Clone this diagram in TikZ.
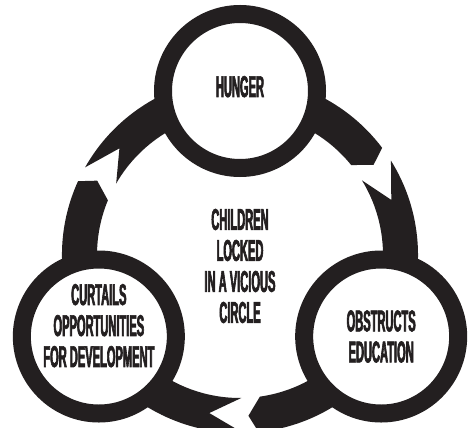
\documentclass[tikz,border=0pt]{standalone}
\usepackage{fontspec}
\setmainfont{Liberation Sans}[FakeStretch=0.37,FakeBold=2]
\usetikzlibrary{calc}
\definecolor{ink}{HTML}{231F20}

\begin{document}
\begin{tikzpicture}[
    x=1bp, y=1bp,
    stage/.style={circle, draw=ink, line width=18bp, fill=white, inner sep=0pt, minimum size=154bp, align=center, text=ink, font=\fontsize{30bp}{31bp}\selectfont\bfseries},
    caption/.style={align=center, text=ink, font=\fontsize{30bp}{31bp}\selectfont\bfseries},
    band/.style={fill=ink}
]
\path[use as bounding box, clip] (0,0) rectangle (471,427);

\coordinate (hub) at (240,172);

% ring pieces: pointed end at \a, swallowtail end at \b
\foreach \a/\b in {34/152.5, 152.5/273, -87/34} {
  \fill[band] ($(hub)+(\a:161bp)$) -- ($(hub)+(\a+3:178bp)$)
     arc[start angle=\a+3, end angle=\b-2, radius=178bp]
     -- ($(hub)+(\b-14:161bp)$) -- ($(hub)+(\b-2.5:143bp)$)
     arc[start angle=\b-2.5, end angle=\a+5, radius=143bp] -- cycle;
}

\node[stage, text depth=9bp] (hunger) at ($(hub)+(90:164bp)$) {HUNGER};
\node[stage] (education) at ($(hub)+(-30:163bp)$) {OBSTRUCTS\\EDUCATION};
\node[stage, text depth=22bp] (curtails) at ($(hub)+(210:163bp)$) {CURTAILS\\OPPORTUNITIES\\FOR DEVELOPMENT};
\node[caption] (vicious) at ($(hub)+(0,-11)$) {CHILDREN\\LOCKED\\IN A VICIOUS\\CIRCLE};

\end{tikzpicture}
\end{document}
